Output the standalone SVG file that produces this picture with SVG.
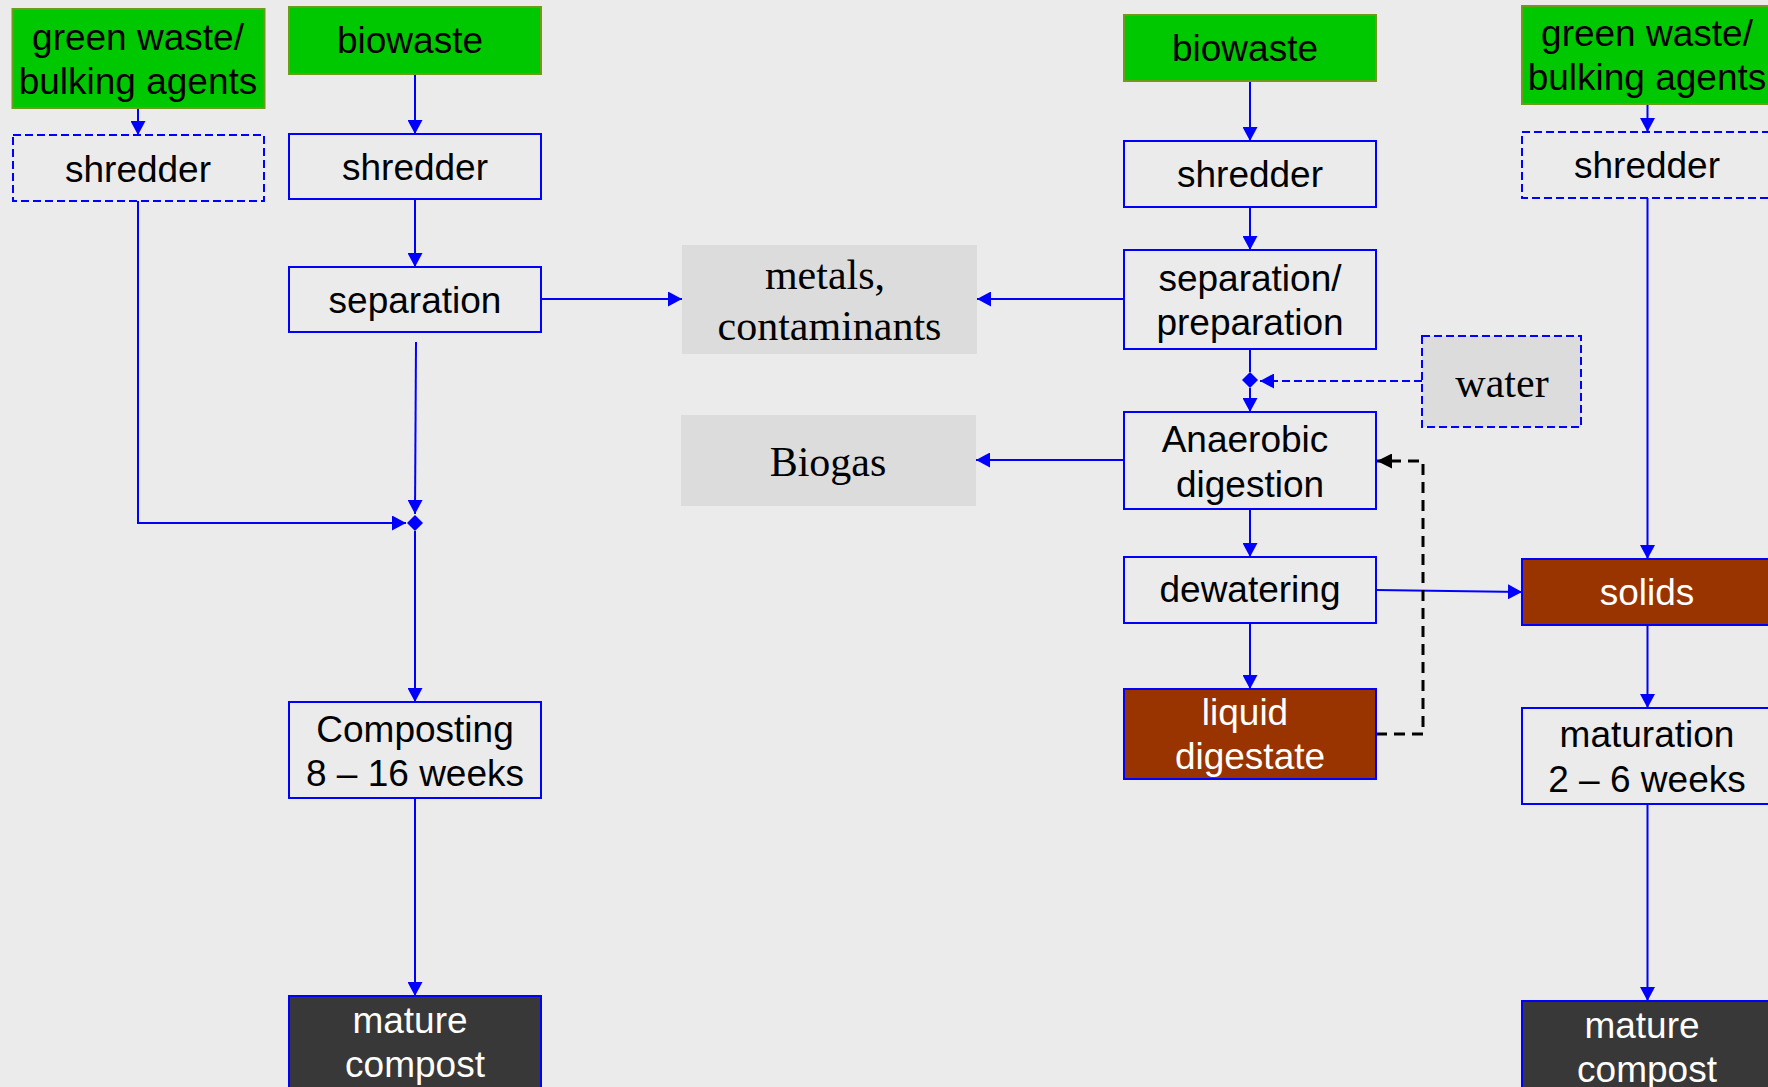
<svg xmlns="http://www.w3.org/2000/svg" width="1768" height="1087" viewBox="0 0 1768 1087">
<style>
.t{font-family:"Liberation Sans",Arial,sans-serif;font-size:37px;fill:#000;text-anchor:middle}
.w{fill:#fff}
.s{font-family:"Liberation Serif","Times New Roman",serif;font-size:42px;fill:#000;text-anchor:middle}
.g{fill:#00c800;stroke:#6f9a1a;stroke-width:2}
.b{fill:none;stroke:#0000ff;stroke-width:2}
.bd{fill:none;stroke:#0000ff;stroke-width:2;stroke-dasharray:8 4}
.br{fill:#993300;stroke:#0000ff;stroke-width:2}
.dk{fill:#383838;stroke:#0000ff;stroke-width:2}
.gr{fill:#dcdcdc}
.grd{fill:#dcdcdc;stroke:#0000ff;stroke-width:2;stroke-dasharray:8 4}
.c{fill:none;stroke:#0000ff;stroke-width:2}
.cd{fill:none;stroke:#0000ff;stroke-width:2;stroke-dasharray:8 4}
.ck{fill:none;stroke:#000;stroke-width:3;stroke-dasharray:11 7}
</style>
<defs>
<marker id="a" markerUnits="userSpaceOnUse" markerWidth="14" markerHeight="15" refX="14" refY="7.5" orient="auto"><path d="M0,0 L14,7.5 L0,15 z" fill="#0000ff"/></marker>
<marker id="ak" markerUnits="userSpaceOnUse" markerWidth="15" markerHeight="15" refX="15" refY="7.5" orient="auto"><path d="M0,0 L15,7.5 L0,15 z" fill="#000"/></marker>
</defs>
<rect width="1768" height="1087" fill="#ebebeb"/>
<g id="connectors">
<path class="c" d="M138,108 V135" marker-end="url(#a)"/>
<path class="c" d="M415,74 V134" marker-end="url(#a)"/>
<path class="c" d="M415,199 V267" marker-end="url(#a)"/>
<path class="c" d="M541,299 H682" marker-end="url(#a)"/>
<path class="c" d="M416,342 L415,514" marker-end="url(#a)"/>
<path class="c" d="M138,201 V523 H406" marker-end="url(#a)"/>
<polygon points="415,515 423,523 415,531 407,523" fill="#0000ff"/>
<path class="c" d="M415,531 V702" marker-end="url(#a)"/>
<path class="c" d="M415,798 V996" marker-end="url(#a)"/>
<path class="c" d="M1250,81 V141" marker-end="url(#a)"/>
<path class="c" d="M1250,207 V250" marker-end="url(#a)"/>
<path class="c" d="M1124,299 H977" marker-end="url(#a)"/>
<path class="c" d="M1250,349 V372"/>
<polygon points="1250,372 1258,380 1250,388 1242,380" fill="#0000ff"/>
<path class="c" d="M1250,388 V412" marker-end="url(#a)"/>
<path class="cd" d="M1422,381 H1260" marker-end="url(#a)"/>
<path class="c" d="M1124,460 H976" marker-end="url(#a)"/>
<path class="c" d="M1250,509 V557" marker-end="url(#a)"/>
<path class="c" d="M1250,623 V689" marker-end="url(#a)"/>
<path class="c" d="M1376,590 L1522,592" marker-end="url(#a)"/>
<path class="ck" d="M1376,734 H1423 V461 H1377" marker-end="url(#ak)"/>
<path class="c" d="M1647.5,104 V132" marker-end="url(#a)"/>
<path class="c" d="M1647.5,198 V559" marker-end="url(#a)"/>
<path class="c" d="M1647.5,625 V708" marker-end="url(#a)"/>
<path class="c" d="M1647.5,804 V1001" marker-end="url(#a)"/>
</g>
<g id="green-left">
<rect class="g" x="12.5" y="9" width="252" height="99"/>
<text class="t" x="138" y="50">green waste/</text>
<text class="t" x="138" y="94">bulking agents</text>
</g>
<g id="biowaste-left">
<rect class="g" x="289" y="7" width="252" height="67"/>
<text class="t" x="410" y="53">biowaste</text>
</g>
<g id="shredder-left-dashed">
<rect class="bd" x="13" y="135" width="251" height="66"/>
<text class="t" x="138" y="182">shredder</text>
</g>
<g id="shredder-left">
<rect class="b" x="289" y="134" width="252" height="65"/>
<text class="t" x="415" y="180">shredder</text>
</g>
<g id="separation">
<rect class="b" x="289" y="267" width="252" height="65"/>
<text class="t" x="415" y="313">separation</text>
</g>
<g id="composting">
<rect class="b" x="289" y="702" width="252" height="96"/>
<text class="t" x="415" y="742">Composting</text>
<text class="t" x="415" y="786">8 – 16 weeks</text>
</g>
<g id="mature-compost-left">
<rect class="dk" x="289" y="996" width="252" height="100"/>
<text class="t w" x="410" y="1033">mature</text>
<text class="t w" x="415" y="1077">compost</text>
</g>
<g id="metals">
<rect class="gr" x="682" y="245" width="295" height="109"/>
<text class="s" x="825" y="289">metals,</text>
<text class="s" x="829.5" y="340">contaminants</text>
</g>
<g id="biogas">
<rect class="gr" x="681" y="415" width="295" height="91"/>
<text class="s" x="828" y="476">Biogas</text>
</g>
<g id="biowaste-right">
<rect class="g" x="1124" y="15" width="252" height="66"/>
<text class="t" x="1245" y="61">biowaste</text>
</g>
<g id="shredder-right">
<rect class="b" x="1124" y="141" width="252" height="66"/>
<text class="t" x="1250" y="187">shredder</text>
</g>
<g id="separation-preparation">
<rect class="b" x="1124" y="250" width="252" height="99"/>
<text class="t" x="1250" y="291">separation/</text>
<text class="t" x="1250" y="335">preparation</text>
</g>
<g id="water">
<rect class="grd" x="1422" y="336" width="159" height="91"/>
<text class="s" x="1502" y="397">water</text>
</g>
<g id="anaerobic">
<rect class="b" x="1124" y="412" width="252" height="97"/>
<text class="t" x="1245" y="452">Anaerobic</text>
<text class="t" x="1250" y="497">digestion</text>
</g>
<g id="dewatering">
<rect class="b" x="1124" y="557" width="252" height="66"/>
<text class="t" x="1250" y="602">dewatering</text>
</g>
<g id="liquid-digestate">
<rect class="br" x="1124" y="689" width="252" height="90"/>
<text class="t w" x="1245" y="725">liquid</text>
<text class="t w" x="1250" y="769">digestate</text>
</g>
<g id="green-right">
<rect class="g" x="1522" y="6" width="252" height="98"/>
<text class="t" x="1647" y="46">green waste/</text>
<text class="t" x="1647" y="90">bulking agents</text>
</g>
<g id="shredder-right-dashed">
<rect class="bd" x="1522" y="132" width="252" height="66"/>
<text class="t" x="1647" y="178">shredder</text>
</g>
<g id="solids">
<rect class="br" x="1522" y="559" width="252" height="66"/>
<text class="t w" x="1647" y="605">solids</text>
</g>
<g id="maturation">
<rect class="b" x="1522" y="708" width="252" height="96"/>
<text class="t" x="1647" y="747">maturation</text>
<text class="t" x="1647" y="792">2 – 6 weeks</text>
</g>
<g id="mature-compost-right">
<rect class="dk" x="1522" y="1001" width="252" height="100"/>
<text class="t w" x="1642" y="1038">mature</text>
<text class="t w" x="1647" y="1082">compost</text>
</g>
</svg>
